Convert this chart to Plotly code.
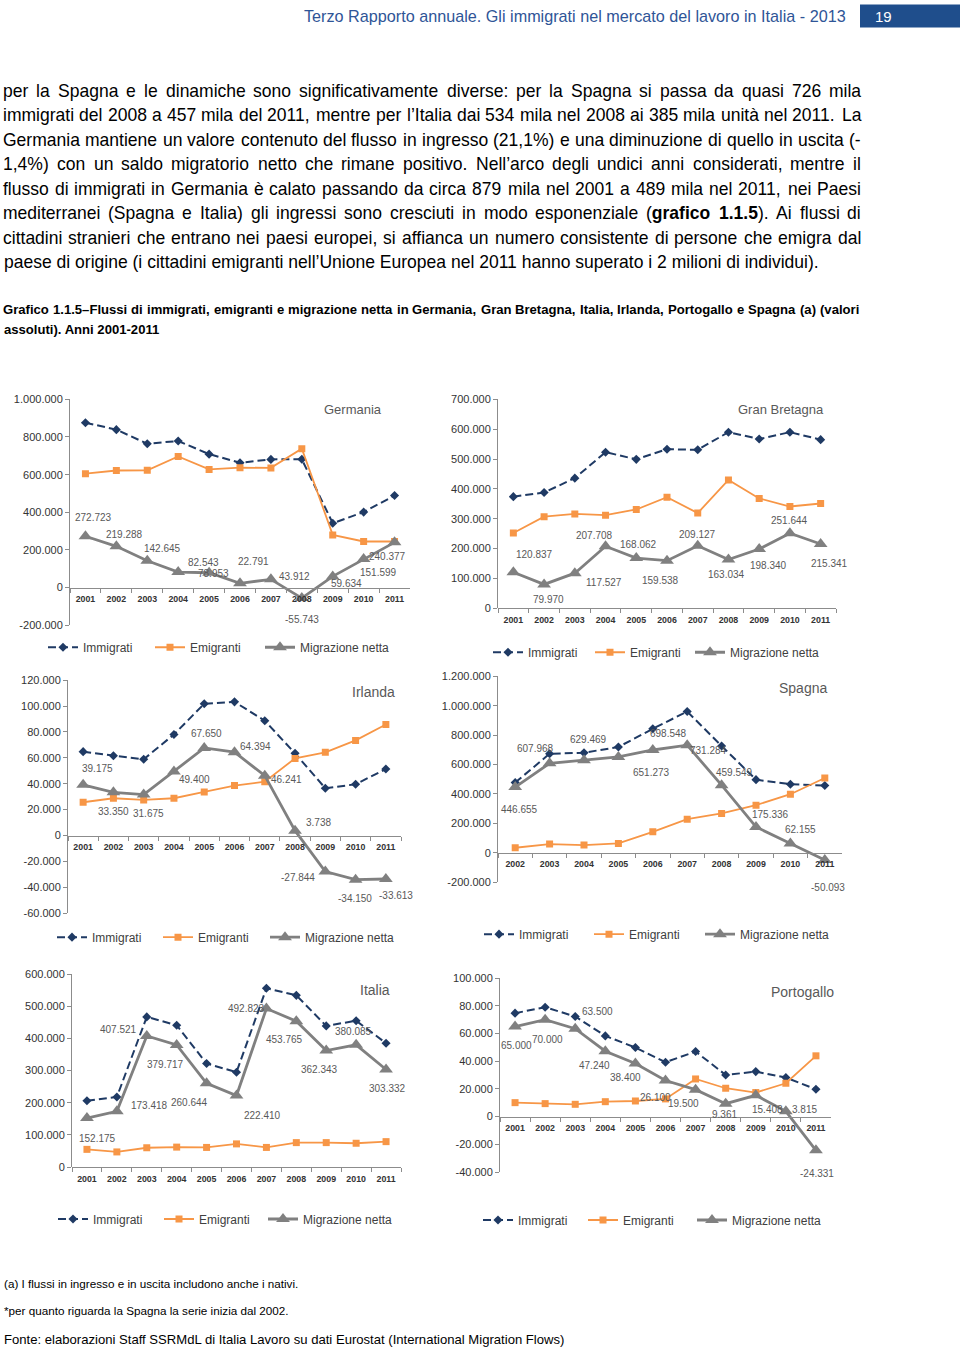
import plotly.graph_objects as go

W, H = 960, 1350

# ---------------- DATA ----------------
years_01 = ["2001", "2002", "2003", "2004", "2005", "2006", "2007", "2008", "2009", "2010", "2011"]
years_02 = ["2002", "2003", "2004", "2005", "2006", "2007", "2008", "2009", "2010", "2011"]
series_names = ["Immigrati", "Emigranti", "Migrazione netta"]

de_imm = [876000, 839000, 764000, 779000, 709000, 663000, 681000, 682000, 342000, 401000, 489000]
de_emi = [605000, 622000, 623000, 697000, 628000, 637000, 636000, 738000, 280000, 245000, 245000]
de_net = [272723, 219288, 142645, 82543, 78953, 22791, 43912, -55743, 59634, 151599, 240377]

gb_imm = [374000, 388000, 436000, 523000, 499000, 533000, 531000, 590000, 567000, 590000, 565000]
gb_emi = [252000, 307000, 316000, 312000, 331000, 372000, 319000, 430000, 368000, 341000, 351000]
gb_net = [120837, 79970, 117527, 207708, 168062, 159538, 209127, 163034, 198340, 251644, 215341]

ie_imm = [64800, 61700, 58900, 78100, 101800, 103300, 88700, 63500, 36500, 39600, 51400]
ie_emi = [25700, 28800, 27500, 28800, 33700, 38600, 41600, 59600, 64300, 73500, 85800]
ie_net = [39175, 33350, 31675, 49400, 67650, 64394, 46241, 3738, -27844, -34150, -33613]

es_imm = [477000, 673000, 680000, 719000, 843000, 960000, 726000, 497000, 466000, 457000]
es_emi = [34000, 59000, 52000, 63000, 142000, 228000, 267000, 323000, 398000, 508000]
es_net = [446655, 607968, 629469, 651273, 698548, 731284, 459549, 175336, 62155, -50093]

it_imm = [206000, 218000, 467000, 441000, 322000, 295000, 556000, 534000, 439000, 455000, 385000]
it_emi = [55000, 47000, 60000, 62000, 61000, 72000, 61000, 76000, 76000, 74000, 79000]
it_net = [152175, 173418, 407521, 379717, 260644, 222410, 492823, 453765, 362343, 380085, 303332]

pt_imm = [74700, 79000, 72300, 58300, 49900, 39300, 47000, 30100, 32500, 28200, 19800]
pt_emi = [10100, 9400, 8900, 10800, 11300, 12800, 27200, 20500, 17400, 24100, 43900]
pt_net = [65000, 70000, 63500, 47240, 38400, 26100, 19500, 9361, 15408, 3815, -24331]

de_ticks = [-200000, 0, 200000, 400000, 600000, 800000, 1000000]
gb_ticks = [0, 100000, 200000, 300000, 400000, 500000, 600000, 700000]
ie_ticks = [-60000, -40000, -20000, 0, 20000, 40000, 60000, 80000, 100000, 120000]
es_ticks = [-200000, 0, 200000, 400000, 600000, 800000, 1000000, 1200000]
it_ticks = [0, 100000, 200000, 300000, 400000, 500000, 600000]
pt_ticks = [-40000, -20000, 0, 20000, 40000, 60000, 80000, 100000]

# ---------------- STYLE / LAYOUT ----------------
SANS = "Liberation Sans, Arial, sans-serif"
C_IMM = "#1F3A64"
C_EMI = "#F79646"
C_NET = "#808080"
C_AX = "#8C8C8C"
C_TXT = "#404040"
C_LBL = "#595959"

# vertical calibration of page pixels
SY, OY = 0.9915, 5.5


def fmt(v):
    s = f"{abs(int(v)):,}".replace(",", ".")
    return ("-" if v < 0 else "") + s


def px(x):
    return x / W


def py(y):
    return 1 - ((y - OY) / SY) / H


# Arial / Liberation Sans advance widths (1/1000 em)
AW = {' ': 278, 'a': 556, 'b': 556, 'c': 500, 'd': 556, 'e': 556, 'f': 278, 'g': 556, 'h': 556, 'i': 222,
      'j': 222, 'k': 500, 'l': 222, 'm': 833, 'n': 556, 'o': 556, 'p': 556, 'q': 556, 'r': 333, 's': 500,
      't': 278, 'u': 556, 'v': 500, 'w': 722, 'x': 500, 'y': 500, 'z': 500, 'à': 556, 'è': 556, 'ù': 556,
      'é': 556, 'ì': 222, 'ò': 556,
      'A': 667, 'B': 667, 'C': 722, 'D': 722, 'E': 667, 'F': 611, 'G': 778, 'H': 722, 'I': 278, 'J': 500,
      'K': 667, 'L': 556, 'M': 833, 'N': 722, 'O': 778, 'P': 667, 'Q': 778, 'R': 722, 'S': 667, 'T': 611,
      'U': 722, 'V': 667, 'W': 944, 'X': 667, 'Y': 667, 'Z': 611,
      '.': 278, ',': 278, ':': 278, ';': 278, '(': 333, ')': 333, '-': 333, '%': 889, '’': 222, "'": 191,
      '–': 556, '*': 389, '/': 278}
AWB = {' ': 278, 'a': 556, 'b': 611, 'c': 556, 'd': 611, 'e': 556, 'f': 333, 'g': 611, 'h': 611, 'i': 278,
       'j': 278, 'k': 556, 'l': 278, 'm': 889, 'n': 611, 'o': 611, 'p': 611, 'q': 611, 'r': 389, 's': 556,
       't': 333, 'u': 611, 'v': 556, 'w': 778, 'x': 556, 'y': 556, 'z': 500,
       'A': 722, 'B': 722, 'C': 722, 'D': 722, 'E': 667, 'F': 611, 'G': 778, 'H': 722, 'I': 278, 'J': 556,
       'K': 722, 'L': 611, 'M': 833, 'N': 722, 'O': 778, 'P': 667, 'Q': 778, 'R': 722, 'S': 667, 'T': 611,
       'U': 722, 'V': 667, 'W': 944,
       '.': 278, ',': 278, ':': 333, '(': 333, ')': 333, '-': 333, '–': 556}


def wlen(word, size):
    tot = 0
    bold = False
    i = 0
    while i < len(word):
        if word.startswith("<b>", i):
            bold = True
            i += 3
            continue
        if word.startswith("</b>", i):
            bold = False
            i += 4
            continue
        ch = word[i]
        if ch.isdigit():
            tot += 556
        elif bold:
            tot += AWB.get(ch, AW.get(ch, 556))
        else:
            tot += AW.get(ch, 556)
        i += 1
    return tot * size / 1000.0


charts = [
    dict(title="Germania", years=years_01, imm=de_imm, emi=de_emi, net=de_net, ticks=de_ticks,
         box=(70, 410, 399, 625), tpos=(353, 409), tsize=13,
         leg_y=647, leg_x=(83, 190, 300),
         off=[(8, -19), (8, -12), (15, -12), (25, -10), (4, 1), (13, -22), (24, -3), (0, 21), (14, 7), (15, 13), (-7, 14)]),
    dict(title="Gran Bretagna", years=years_01, imm=gb_imm, emi=gb_emi, net=gb_net, ticks=gb_ticks,
         box=(498, 836, 399, 608), tpos=(781, 409), tsize=13,
         leg_y=652, leg_x=(528, 630, 730),
         off=[(21, -18), (4, 15), (29, 9), (-11, -11), (2, -14), (-7, 20), (0, -11), (-2, 15), (9, 16), (0, -13), (9, 20)]),
    dict(title="Irlanda", years=years_01, imm=ie_imm, emi=ie_emi, net=ie_net, ticks=ie_ticks,
         box=(68, 401, 680, 913), tpos=(373, 692), tsize=14,
         leg_y=937, leg_x=(92, 198, 305),
         off=[(14, -16), (0, 19), (5, 19), (21, 8), (2, -14), (21, -6), (22, 4), (23, -8), (-27, 6), (-1, 19), (10, 16)]),
    dict(title="Spagna", years=years_02, imm=es_imm, emi=es_emi, net=es_net, ticks=es_ticks,
         box=(498, 842, 676, 882), tpos=(803, 688), tsize=14,
         leg_y=934, leg_x=(519, 629, 740),
         off=[(4, 22), (-14, -15), (4, -21), (33, 16), (16, -16), (21, 5), (13, -13), (14, -12), (10, -14), (3, 27)]),
    dict(title="Italia", years=years_01, imm=it_imm, emi=it_emi, net=it_net, ticks=it_ticks,
         box=(72, 401, 974, 1167), tpos=(375, 990), tsize=14,
         leg_y=1219, leg_x=(93, 199, 303),
         off=[(11, 20), (33, -6), (-28, -7), (-11, 20), (-17, 19), (26, 20), (-20, 0), (-12, 18), (-7, 19), (-3, -13), (1, 19)]),
    dict(title="Portogallo", years=years_01, imm=pt_imm, emi=pt_emi, net=pt_net, ticks=pt_ticks,
         box=(500, 831, 978, 1172), tpos=(802, 992), tsize=14,
         leg_y=1220, leg_x=(518, 623, 732),
         off=[(1, 19), (2, 20), (22, -17), (-11, 14), (-10, 14), (-10, 17), (-12, 14), (-1, 11), (12, 14), (19, -2), (1, 23)]),
]

fig = go.Figure()
layout = dict(
    width=W, height=H, margin=dict(l=0, r=0, t=0, b=0),
    paper_bgcolor="white", plot_bgcolor="white",
    font=dict(family=SANS, color=C_TXT),
    showlegend=True,
)
annotations = []
shapes = []

leg_n = 0
for k, c in enumerate(charts, start=1):
    xs = "" if k == 1 else str(k)
    x0, x1, ytop, ybot = c["box"]
    r0, r1 = c["ticks"][0], c["ticks"][-1]
    d0, d1 = py(ybot), py(ytop)
    zero_pos = d0 + (0 - r0) / (r1 - r0) * (d1 - d0)
    n = len(c["years"])
    layout["xaxis" + xs] = dict(
        type="category", domain=[px(x0), px(x1)], anchor="free", position=zero_pos,
        range=[-0.5, n - 0.5], showline=True, linecolor=C_AX, linewidth=1,
        ticks="outside", tickson="boundaries", ticklen=4, tickcolor=C_AX,
        showgrid=False, zeroline=False, tickangle=0, ticklabelstandoff=3,
        tickfont=dict(family=SANS, size=8.8, color="#333333", weight="bold"),
    )
    layout["yaxis" + xs] = dict(
        domain=[d0, d1], anchor="x" + xs, range=[r0, r1],
        tickvals=c["ticks"], ticktext=[fmt(t) for t in c["ticks"]],
        showline=True, linecolor=C_AX, linewidth=1, ticks="outside", ticklen=4, tickcolor=C_AX,
        showgrid=False, zeroline=False,
        tickfont=dict(family=SANS, size=11, color="#333333"),
    )
    styles = [
        dict(y=c["imm"], line=dict(color=C_IMM, width=2, dash="8px,4px"),
             marker=dict(symbol="diamond", size=7, color=C_IMM)),
        dict(y=c["emi"], line=dict(color=C_EMI, width=1.8),
             marker=dict(symbol="square", size=7, color=C_EMI)),
        dict(y=c["net"], line=dict(color=C_NET, width=2.8),
             marker=dict(symbol="triangle-up", size=12, color=C_NET)),
    ]
    for j, s in enumerate(styles):
        leg_n += 1
        lname = "legend" if leg_n == 1 else f"legend{leg_n}"
        fig.add_trace(go.Scatter(
            x=c["years"], y=s["y"], mode="lines+markers", name=series_names[j],
            line=s["line"], marker=s["marker"], xaxis="x" + xs, yaxis="y" + xs,
            legend=lname, hoverinfo="skip",
        ))
        layout[lname] = dict(
            x=px(c["leg_x"][j] - 40), y=py(c["leg_y"]), xanchor="left", yanchor="middle",
            bgcolor="rgba(0,0,0,0)", borderwidth=0,
            font=dict(family=SANS, size=12, color=C_TXT),
            itemclick=False, itemdoubleclick=False,
        )
    # data labels for net migration
    for i, v in enumerate(c["net"]):
        dx, dy = c["off"][i]
        annotations.append(dict(
            x=i, y=v, xref="x" + xs, yref="y" + xs, text=fmt(v), showarrow=False,
            xshift=dx, yshift=-dy, font=dict(family=SANS, size=10, color=C_LBL),
        ))
    # chart title
    annotations.append(dict(
        x=px(c["tpos"][0]), y=py(c["tpos"][1]), xref="paper", yref="paper",
        text=c["title"], showarrow=False, xanchor="center", yanchor="middle",
        font=dict(family=SANS, size=c["tsize"], color=C_LBL),
    ))


# ---------------- PAGE TEXT ----------------
def text(x, y, s, size, color="#000000", anchor="left"):
    annotations.append(dict(
        x=px(x), y=py(y), xref="paper", yref="paper", text=s, showarrow=False,
        xanchor=anchor, yanchor="middle", font=dict(family=SANS, size=size, color=color),
    ))


def justified(y, s, size, x0=2, x1=860):
    words = s.split(" ")
    widths = [wlen(w, size) for w in words]
    gap = (x1 - x0 - sum(widths)) / (len(words) - 1)
    x = x0
    for w, wd in zip(words, widths):
        text(x - 1, y, w, size, anchor="left")
        x += wd + gap


# header
text(848, 16, "Terzo Rapporto annuale. Gli immigrati nel mercato del lavoro in Italia - 2013", 16.2,
     color="#2F5597", anchor="right")
shapes.append(dict(type="rect", xref="paper", yref="paper", x0=px(860), x1=1, y0=py(27), y1=py(4),
                   fillcolor="#1F4E8C", line=dict(width=0)))
text(873, 16, "19", 15, color="white")

para = [
    "per la Spagna e le dinamiche sono significativamente diverse: per la Spagna si passa da quasi 726 mila",
    "immigrati del 2008 a 457 mila del 2011, mentre per l’Italia dai 534 mila nel 2008 ai 385 mila unità nel 2011. La",
    "Germania mantiene un valore contenuto del flusso in ingresso (21,1%) e una diminuzione di quello in uscita (-",
    "1,4%) con un saldo migratorio netto che rimane positivo. Nell’arco degli undici anni considerati, mentre il",
    "flusso di immigrati in Germania è calato passando da circa 879 mila nel 2001 a 489 mila nel 2011, nei Paesi",
    "mediterranei (Spagna e Italia) gli ingressi sono cresciuti in modo esponenziale (<b>grafico</b> <b>1.1.5</b>). Ai flussi di",
    "cittadini stranieri che entrano nei paesi europei, si affianca un numero consistente di persone che emigra dal",
]
last_line = "paese di origine (i cittadini emigranti nell’Unione Europea nel 2011 hanno superato i 2 milioni di individui)."
para_y = [91, 115, 140, 164, 189, 213, 238]
PSIZE = 816.0 / wlen(last_line, 1.0)
for y, s in zip(para_y, para):
    justified(y, s, PSIZE)
text(2, 262, last_line, PSIZE)

cap1 = ("Grafico 1.1.5–Flussi di immigrati, emigranti e migrazione netta in Germania, Gran Bretagna, "
        "Italia, Irlanda, Portogallo e Spagna (a) (valori")
CSIZE = 13.1
justified(309, " ".join("<b>" + w + "</b>" for w in cap1.split(" ")), CSIZE, x0=2, x1=858)
text(2, 329, "<b>assoluti). Anni 2001-2011</b>", CSIZE)

text(2, 1284, "(a) I flussi in ingresso e in uscita includono anche i nativi.", 11.7)
text(2, 1311, "*per quanto riguarda la Spagna la serie inizia dal 2002.", 11.7)
text(2, 1340, "Fonte: elaborazioni Staff SSRMdL di Italia Lavoro su dati Eurostat (International Migration Flows)", 13.1)

layout["annotations"] = annotations
layout["shapes"] = shapes
fig.update_layout(**layout)
fig.write_html(
    "out.html",
    config={"displayModeBar": False, "staticPlot": True},
    post_script="document.body.style.margin='0';document.body.style.overflow='hidden';",
)
